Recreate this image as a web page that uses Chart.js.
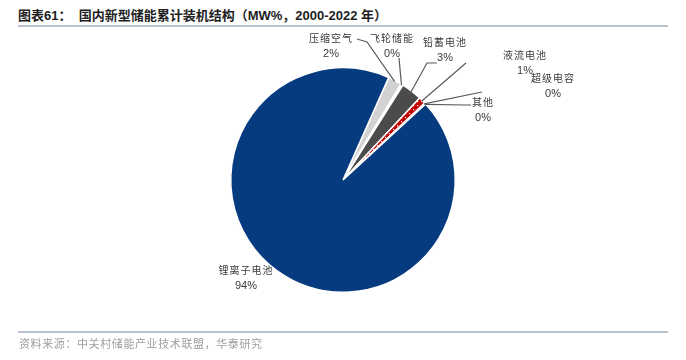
<!DOCTYPE html>
<html><head><meta charset="utf-8">
<script src="https://cdn.jsdelivr.net/npm/chart.js@4/dist/chart.umd.min.js"></script>
<style>
html,body{margin:0;padding:0;background:#fff;width:686px;height:360px;overflow:hidden;}
#wrap{position:relative;width:686px;height:360px;}
canvas{position:absolute;left:0;top:0;}
.title{position:absolute;left:18px;top:5px;font:bold 13px "Liberation Sans","Noto Sans CJK SC",sans-serif;color:#1e1e1e;white-space:nowrap;}
.rule{position:absolute;left:18px;width:650px;height:2px;background:#b9c1cc;}
.src{position:absolute;left:19px;top:335px;font:11px "Noto Sans CJK SC",sans-serif;color:#9f9f9f;white-space:nowrap;letter-spacing:0.6px;}
</style></head>
<body><div id="wrap">
<div class="title">图表61：&nbsp; 国内新型储能累计装机结构（MW%，2000-2022 年）</div>
<div class="rule" style="top:25px"></div>
<canvas id="c" width="686" height="360"></canvas>
<div class="rule" style="top:331px"></div>
<div class="src">资料来源：中关村储能产业技术联盟，华泰研究</div>
</div>
<script>
// ---- data ----
const categories = ["压缩空气","飞轮储能","铅蓄电池","液流电池","超级电容","其他","锂离子电池"];
const shares = [2.0, 0.3, 3.0, 1.0, 0.1, 0.1, 93.5];
const shareLabels = ["2%","0%","3%","1%","0%","0%","94%"];

// ---- styles / layout (not data) ----
function redPattern(){
  const p=document.createElement('canvas');p.width=4;p.height=4;
  const g=p.getContext('2d');g.fillStyle='#c40000';g.fillRect(0,0,4,4);
  g.fillStyle='#ffffff';g.fillRect(1,1,1.2,1.2);
  return g.createPattern(p,'repeat');
}
const sliceColors = ['#d2d2d2','#ffffff','#4b4b4b',null,'#c40000','#c40000','#073b80'];
// label placement relative to pie center (dx,dy) and elbow points for leader lines
const labelLayout = [
  {tx:-12, ty:-142, line:[[14,-141],[24,-138]]},
  {tx:49,  ty:-142, line:[[56,-122]]},
  {tx:102, ty:-138, line:[[94,-117],[84,-117]]},
  {tx:182, ty:-125, line:[[123,-117]]},
  {tx:210, ty:-102, line:[[139,-88]]},
  {tx:140, ty:-78,  line:[[128,-75],[123,-75]]},
  {tx:-97, ty:90,   line:null}
];

const labelPlugin = {
  id:'leaderLabels',
  afterDatasetsDraw(chart){
    const ctx=chart.ctx, meta=chart.getDatasetMeta(0);
    meta.data.forEach((arc,i)=>{
      const L=labelLayout[i];
      const cx=arc.x, cy=arc.y, r=arc.outerRadius;
      const mid=(arc.startAngle+arc.endAngle)/2;
      const ax=cx+Math.cos(mid)*(r-1), ay=cy+Math.sin(mid)*(r-1);
      if(L.line){
        ctx.save();ctx.strokeStyle='#5a5a5a';ctx.lineWidth=1.2;ctx.beginPath();
        ctx.moveTo(ax,ay);
        for(let k=L.line.length-1;k>=0;k--){ctx.lineTo(cx+L.line[k][0],cy+L.line[k][1]);}
        ctx.stroke();ctx.restore();
      }
      ctx.save();ctx.fillStyle='#3a3a3a';ctx.textAlign='center';ctx.textBaseline='middle';
      ctx.font='10px "Noto Sans CJK SC"';
      if('letterSpacing' in ctx) ctx.letterSpacing='1px';
      ctx.fillText(categories[i],cx+L.tx,cy+L.ty);
      if('letterSpacing' in ctx) ctx.letterSpacing='0px';
      ctx.font='11px "Liberation Sans"';
      ctx.fillText(shareLabels[i],cx+L.tx,cy+L.ty+16);
      ctx.restore();
    });
  }
};

const colors = sliceColors.map(c=>c===null?redPattern():c);
new Chart(document.getElementById('c'),{
  type:'pie',
  data:{labels:categories,datasets:[{data:shares,backgroundColor:colors,borderColor:'#ffffff',borderWidth:1.5}]},
  options:{
    responsive:false,animation:false,rotation:24,
    layout:{padding:{top:67,bottom:67,left:0,right:0}},
    plugins:{legend:{display:false},tooltip:{enabled:false},title:{display:false}}
  },
  plugins:[labelPlugin]
});
</script>
</body></html>
